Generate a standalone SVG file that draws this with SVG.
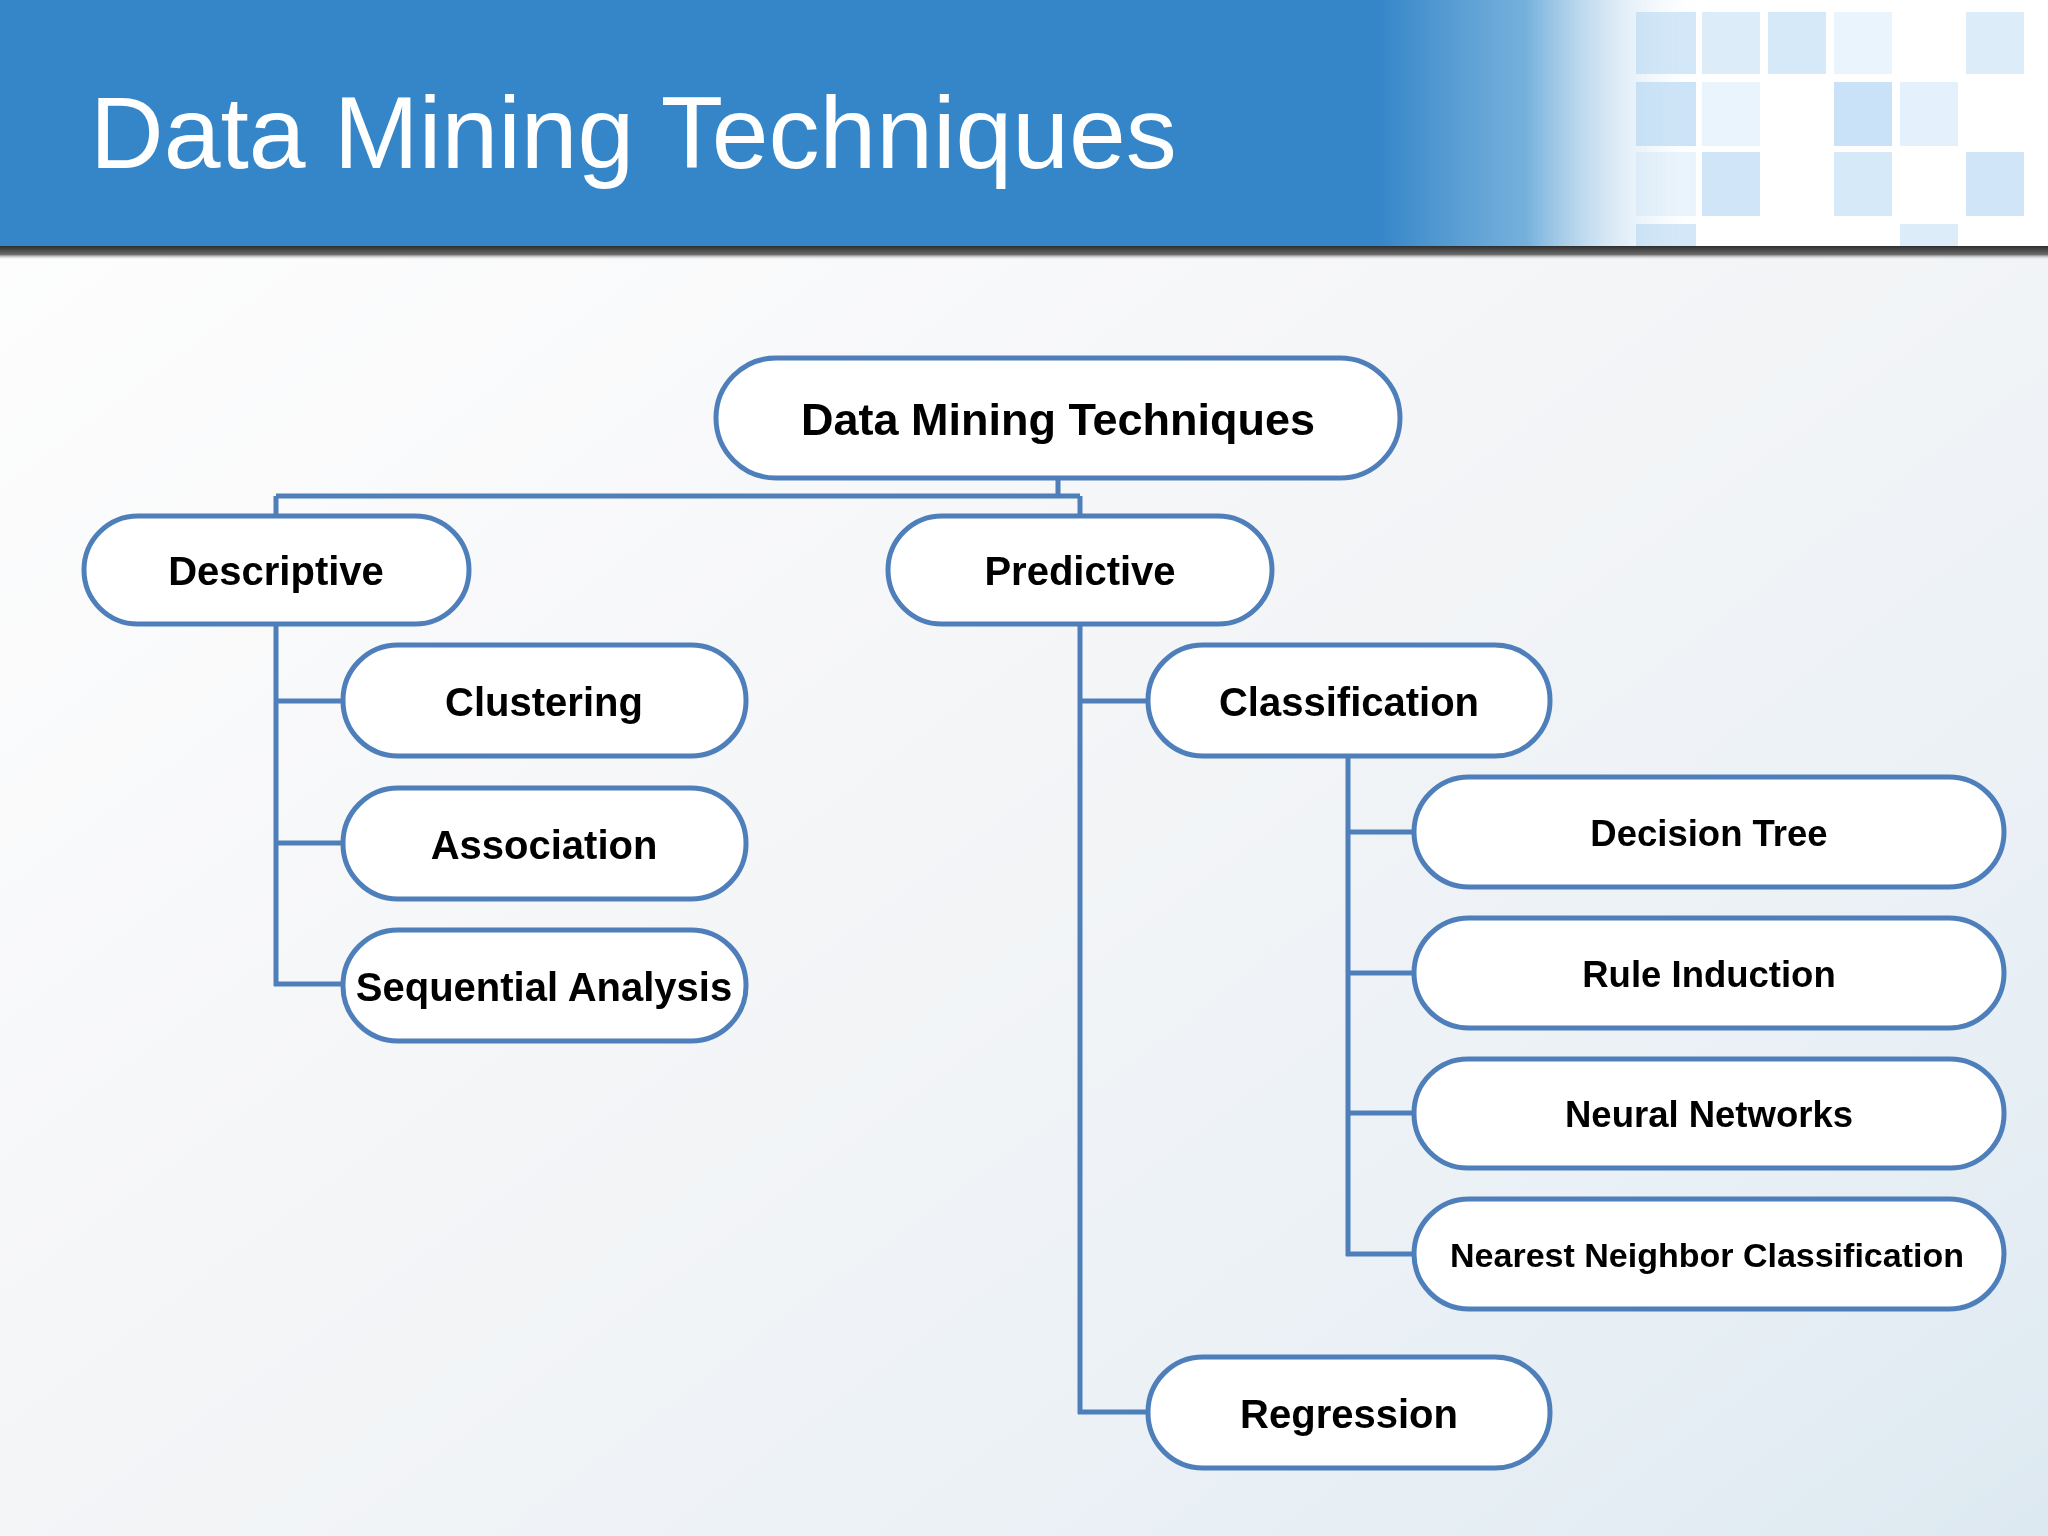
<svg xmlns="http://www.w3.org/2000/svg" width="2048" height="1536" viewBox="0 0 2048 1536">
<defs>
<linearGradient id="bg" x1="0" y1="0" x2="1" y2="1">
<stop offset="0" stop-color="#ffffff"/>
<stop offset="0.5" stop-color="#f4f5f7"/>
<stop offset="0.8" stop-color="#e9f0f5"/>
<stop offset="1" stop-color="#dde9f1"/>
</linearGradient>
<linearGradient id="hdrFade" x1="0" y1="0" x2="1" y2="0">
<stop offset="0" stop-color="#3586c8" stop-opacity="1"/>
<stop offset="0.45" stop-color="#5ea3d6" stop-opacity="0.85"/>
<stop offset="1" stop-color="#ffffff" stop-opacity="0"/>
</linearGradient>
<linearGradient id="shadow" x1="0" y1="0" x2="0" y2="1">
<stop offset="0" stop-color="#2e2e2e"/>
<stop offset="0.6" stop-color="#6a6a6a"/>
<stop offset="1" stop-color="#ffffff" stop-opacity="0"/>
</linearGradient>
<style>
.node rect{fill:#ffffff;stroke:#4f7fba;stroke-width:5}
.node text{font-family:"Liberation Sans",Arial,sans-serif;font-weight:bold;fill:#000;text-anchor:middle;dominant-baseline:central}
.t40{font-size:40px}
.t36{font-size:36.5px}
.t34{font-size:34px}
#connectors path{fill:none;stroke:#4f7fba;stroke-width:5}
.tile{fill:#8fc3ee}
</style>
</defs>
<rect x="0" y="0" width="2048" height="1536" fill="url(#bg)"/>
<!-- header -->
<g id="header">
<rect x="0" y="0" width="2048" height="248" fill="#ffffff"/>
<g opacity="0.6">
<rect class="tile" x="1636" y="12" width="60" height="62" opacity="0.7"/>
<rect class="tile" x="1702" y="12" width="58" height="62" opacity="0.5"/>
<rect class="tile" x="1768" y="12" width="58" height="62" opacity="0.6"/>
<rect class="tile" x="1834" y="12" width="58" height="62" opacity="0.3"/>
<rect class="tile" x="1966" y="12" width="58" height="62" opacity="0.5"/>
<rect class="tile" x="1636" y="82" width="60" height="64" opacity="0.8"/>
<rect class="tile" x="1702" y="82" width="58" height="64" opacity="0.3"/>
<rect class="tile" x="1834" y="82" width="58" height="64" opacity="0.8"/>
<rect class="tile" x="1900" y="82" width="58" height="64" opacity="0.4"/>
<rect class="tile" x="1636" y="152" width="60" height="64" opacity="0.3"/>
<rect class="tile" x="1702" y="152" width="58" height="64" opacity="0.7"/>
<rect class="tile" x="1834" y="152" width="58" height="64" opacity="0.6"/>
<rect class="tile" x="1966" y="152" width="58" height="64" opacity="0.7"/>
<rect class="tile" x="1636" y="224" width="60" height="24" opacity="0.7"/>
<rect class="tile" x="1900" y="224" width="58" height="24" opacity="0.5"/>
</g>
<rect x="0" y="0" width="1380" height="248" fill="#3586c8"/>
<rect x="1378" y="0" width="330" height="248" fill="url(#hdrFade)"/>
<rect x="0" y="246" width="2048" height="14" fill="url(#shadow)"/>
<text x="90" y="168" font-family="'Liberation Sans',Arial,sans-serif" font-size="102" fill="#ffffff">Data Mining Techniques</text>
</g>
<!-- connectors -->
<g id="connectors">
<path d="M1058 478 V496 M276 496 H1080 M276 496 V516 M1080 496 V516"/>
<path d="M276 626 V986 M274 701 H343 M274 843 H343 M274 984 H343"/>
<path d="M1080 626 V1414 M1078 701 H1148 M1078 1412 H1148"/>
<path d="M1348 758 V1256 M1346 832 H1414 M1346 973 H1414 M1346 1113 H1414 M1346 1254 H1414"/>
</g>
<!-- nodes -->
<g id="n-root" class="node"><rect x="716" y="358" width="684" height="120" rx="60"/><text x="1058" y="419" style="font-size:45px">Data Mining Techniques</text></g>
<g id="n-descriptive" class="node"><rect x="84" y="516" width="385" height="108" rx="54"/><text class="t40" x="276" y="571">Descriptive</text></g>
<g id="n-predictive" class="node"><rect x="888" y="516" width="384" height="108" rx="54"/><text class="t40" x="1080" y="571">Predictive</text></g>
<g id="n-clustering" class="node"><rect x="343" y="645" width="403" height="111" rx="55"/><text class="t40" x="544" y="702">Clustering</text></g>
<g id="n-association" class="node"><rect x="343" y="788" width="403" height="111" rx="55"/><text class="t40" x="544" y="845">Association</text></g>
<g id="n-sequential" class="node"><rect x="343" y="930" width="403" height="111" rx="55"/><text class="t40" x="544" y="987">Sequential Analysis</text></g>
<g id="n-classification" class="node"><rect x="1148" y="645" width="402" height="111" rx="55"/><text class="t40" x="1349" y="702">Classification</text></g>
<g id="n-decision" class="node"><rect x="1414" y="777" width="590" height="110" rx="55"/><text class="t36" x="1709" y="833">Decision Tree</text></g>
<g id="n-rule" class="node"><rect x="1414" y="918" width="590" height="110" rx="55"/><text class="t36" x="1709" y="974">Rule Induction</text></g>
<g id="n-neural" class="node"><rect x="1414" y="1059" width="590" height="109" rx="54"/><text class="t36" x="1709" y="1114">Neural Networks</text></g>
<g id="n-nearest" class="node"><rect x="1414" y="1199" width="590" height="110" rx="55"/><text class="t34" x="1707" y="1255">Nearest Neighbor Classification</text></g>
<g id="n-regression" class="node"><rect x="1148" y="1357" width="402" height="111" rx="55"/><text class="t40" x="1349" y="1414">Regression</text></g>
</svg>
